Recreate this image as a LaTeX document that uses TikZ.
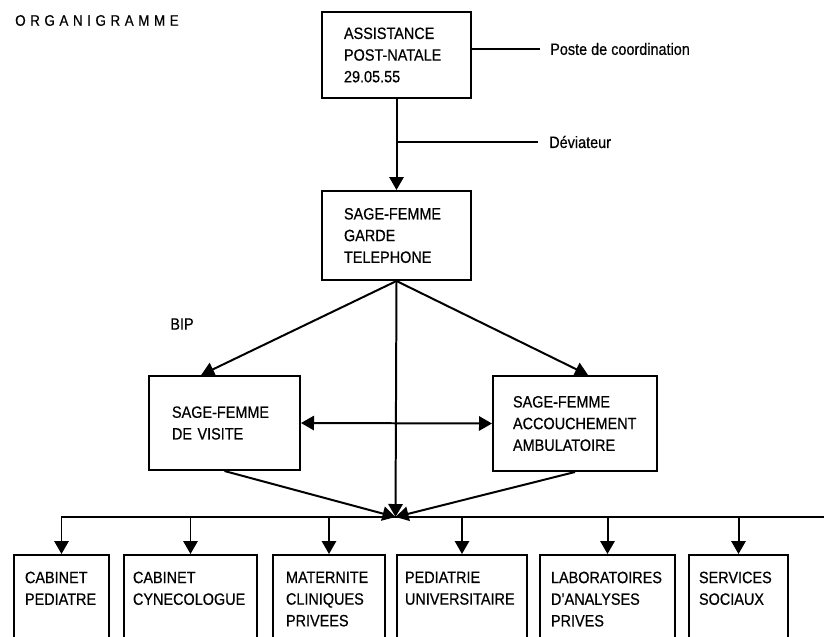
\documentclass[tikz,border=0pt]{standalone}
\usepackage{fontspec}
\setmainfont[FakeStretch=0.88,FakeBold=0.5]{Liberation Sans}
\usepackage{tikz}
\usetikzlibrary{arrows.meta,positioning}
\hyphenpenalty=10000
\exhyphenpenalty=10000
\newcommand\boxfont{\fontsize{14}{18.5}\selectfont}

\begin{document}
\begin{tikzpicture}[
  x=0.03cm,y=-0.03cm,
  box/.style={draw,line width=1.7pt,align=left,anchor=north west,
              inner ysep=0pt,font=\boxfont},
  lowbox/.style={box,inner ysep=0.5cm,text depth=2cm},
  lbl/.style={anchor=west,inner ysep=0pt,font=\boxfont},
  link/.style={line width=1.7pt},
  flow/.style={-{Triangle[length=3.9mm,width=4.3mm]},line width=1.7pt}
]
\useasboundingbox (0,0) rectangle (824,636);
\clip (0,0) rectangle (824,636);

\node[anchor=west,inner sep=0pt,font={\fontsize{13}{16}\selectfont\addfontfeature{LetterSpace=30}}]
  (title) at (15,20.5) {ORGANIGRAMME};

\node[box,text width=3.15cm,inner xsep=0.66cm,minimum height=2.58cm] (top) at (321,11)
  {ASSISTANCE\\POST-NATALE\\29.05.55};
\node[box,text width=3.15cm,inner xsep=0.66cm,minimum height=2.67cm] (garde) at (321,190)
  {SAGE-FEMME\\GARDE\\TELEPHONE};
\node[box,text width=3.15cm,inner xsep=0.69cm,minimum height=2.82cm] (visite) at (148,375)
  {SAGE-FEMME\\DE VISITE\\[0.9cm]};
\node[box,text width=3.72cm,inner xsep=0.6cm,minimum height=2.85cm] (ambu) at (492,375)
  {SAGE-FEMME\\ACCOUCHEMENT\\AMBULATOIRE};

\node[lbl,inner xsep=0.3cm] (poste) at (540,49) {Poste de coordination};
\node[lbl,inner xsep=0.33cm] (devi) at (538,142) {Déviateur};
\node[inner sep=0pt,font=\boxfont] (bip) at (182,324) {BIP};

\node[lowbox,text width=2.19cm,inner xsep=0.33cm] (cabped) at (13,554) {CABINET\\PEDIATRE};
\node[lowbox,text width=3.45cm,inner xsep=0.27cm] (cabgyn) at (123,554) {CABINET\\CYNECOLOGUE};
\node[lowbox,text width=2.58cm,inner xsep=0.39cm] (mater) at (272,554) {MATERNITE\\CLINIQUES\\PRIVEES};
\node[lowbox,text width=3.42cm,inner xsep=0.24cm] (pedia) at (396,554) {PEDIATRIE\\UNIVERSITAIRE};
\node[lowbox,text width=3.39cm,inner xsep=0.33cm] (labo) at (539,554) {LABORATOIRES\\D'ANALYSES\\PRIVES};
\node[lowbox,text width=2.37cm,inner xsep=0.30cm] (social) at (688,554) {SERVICES\\SOCIAUX};

\coordinate (hub) at (395.5,517);
\coordinate (busend) at (830,517);

\draw[link] (top.east |- poste.west) -- (poste.west);
\draw[link] (top.south |- devi.west) -- (devi.west);
\draw[flow] (top.south) -- (garde.north);
\draw[flow] (garde.south) -- ([xshift=-0.7cm]visite.north);
\draw[flow] (garde.south) -- ([xshift=0.39cm]ambu.north);
\draw[{Triangle[length=3.9mm,width=4.3mm]}-{Triangle[length=3.9mm,width=4.3mm]},line width=1.7pt]
  (visite.east) -- (ambu.west);
\draw[flow] (garde.south) -- (hub);
\draw[flow] (visite.south) -- (hub);
\draw[flow] (ambu.south) -- (hub);
\draw[link] (cabped.north |- hub) -- (busend);
\foreach \n in {cabped,cabgyn,mater,pedia,labo,social}
  \draw[flow] (\n.north |- hub) -- (\n.north);
\end{tikzpicture}
\end{document}
